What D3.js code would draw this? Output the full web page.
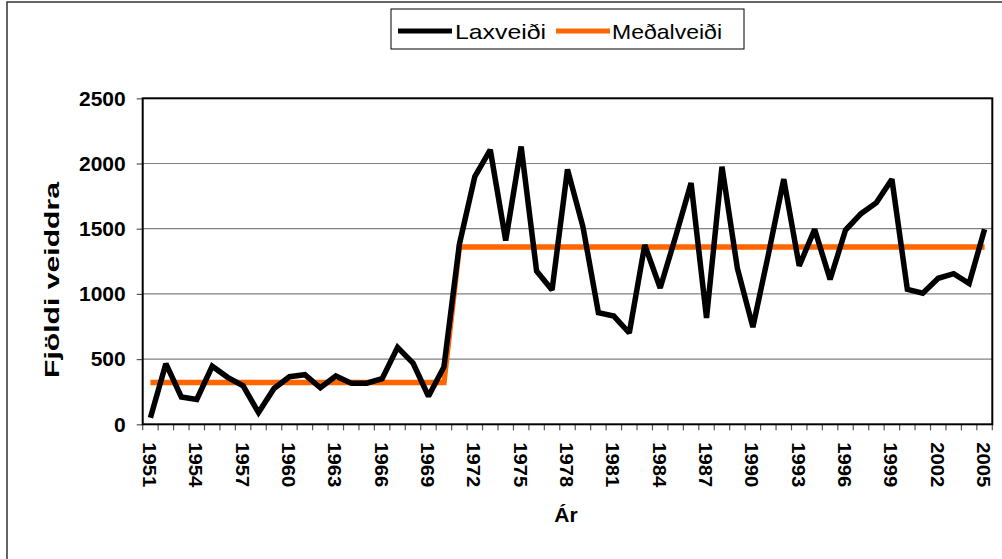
<!DOCTYPE html>
<html>
<head>
<meta charset="utf-8">
<script src="https://cdn.jsdelivr.net/npm/d3@7/dist/d3.min.js"></script>
<style>
  html, body { margin: 0; padding: 0; background: #fff; }
  svg { display: block; font-family: "Liberation Sans", Arial, sans-serif; }
</style>
</head>
<body>
<svg id="chart" width="1002" height="559"></svg>
<script>
const years = [1951,1952,1953,1954,1955,1956,1957,1958,1959,1960,
  1961,1962,1963,1964,1965,1966,1967,1968,1969,1970,
  1971,1972,1973,1974,1975,1976,1977,1978,1979,1980,
  1981,1982,1983,1984,1985,1986,1987,1988,1989,1990,
  1991,1992,1993,1994,1995,1996,1997,1998,1999,2000,
  2001,2002,2003,2004,2005];
const laxveidi = [50,465,210,190,445,360,295,90,275,365,
  380,280,370,315,315,350,590,470,215,440,
  1380,1900,2105,1410,2130,1175,1030,1955,1515,855,
  830,700,1375,1045,1440,1850,815,1975,1195,745,
  1300,1880,1215,1495,1110,1490,1615,1700,1880,1035,
  1005,1120,1155,1080,1495];
const medalveidi = [320,320,320,320,320,320,320,320,320,320,
  320,320,320,320,320,320,320,320,320,320,
  1360,1360,1360,1360,1360,1360,1360,1360,1360,1360,
  1360,1360,1360,1360,1360,1360,1360,1360,1360,1360,
  1360,1360,1360,1360,1360,1360,1360,1360,1360,1360,
  1360,1360,1360,1360,1360];
const yTicks = [0,500,1000,1500,2000,2500];
const xLabelYears = [1951,1954,1957,1960,1963,1966,1969,1972,1975,1978,1981,1984,1987,1990,1993,1996,1999,2002,2005];
const seriesNames = ["Laxveiði","Meðalveiði"];
const seriesColors = ["#000000","#FF6600"];
const yTitle = "Fjöldi veiddra";
const xTitle = "Ár";

const svg = d3.select("#chart");
const L = 142.7, R = 992.3, T = 98.3, B = 424.3;

// outer chart border
svg.append("rect").attr("x",7).attr("y",2).attr("width",1010).attr("height",600)
  .attr("fill","#fff").attr("stroke","#333").attr("stroke-width",1.5);

const x = d3.scaleBand().domain(years).range([L, R]).paddingInner(0).paddingOuter(0);
const y = d3.scaleLinear().domain([0,2500]).range([B, T]);
const cx = d => x(d) + x.bandwidth()/2;

// gridlines
svg.append("g").selectAll("line").data(yTicks.filter(v => v > 0 && v < 2500)).join("line")
  .attr("x1", L).attr("x2", R).attr("y1", d => y(d)).attr("y2", d => y(d))
  .attr("stroke","#808080").attr("stroke-width",1.2);

// y axis
const yAxis = svg.append("g").attr("transform",`translate(${L},0)`)
  .call(d3.axisLeft(y).tickValues(yTicks).tickSize(6).tickPadding(11).tickFormat(d3.format("d")));
yAxis.select(".domain").remove();
yAxis.selectAll(".tick line").attr("stroke","#555").attr("stroke-width",1.2);
yAxis.selectAll(".tick text").attr("font-size",21).attr("font-weight","bold")
  .attr("fill","#000").attr("font-family","'Liberation Sans', Arial, sans-serif");

// x axis boundary ticks
const bounds = years.map(v => x(v)).concat([R]);
svg.append("g").selectAll("line").data(bounds).join("line")
  .attr("x1", d => d).attr("x2", d => d).attr("y1", B).attr("y2", B + 6)
  .attr("stroke","#555").attr("stroke-width",1.2);

// x labels (rotated)
const xAxis = svg.append("g").attr("transform",`translate(0,${B})`)
  .call(d3.axisBottom(x).tickValues(xLabelYears).tickSize(0));
xAxis.select(".domain").remove();
xAxis.selectAll(".tick text")
  .attr("font-size",17.5).attr("font-weight","bold").attr("fill","#000")
  .attr("font-family","'Liberation Sans', Arial, sans-serif")
  .attr("text-anchor","start").attr("dy",null).attr("y",null)
  .attr("dominant-baseline","central")
  .attr("textLength",45).attr("lengthAdjust","spacingAndGlyphs")
  .attr("transform","translate(-1.5,18) rotate(90)");

// plot border
svg.append("rect").attr("x",L).attr("y",T).attr("width",R-L).attr("height",B-T)
  .attr("fill","none").attr("stroke","#000").attr("stroke-width",2);

// lines
const line = d3.line().x((d,i) => cx(years[i])).y(d => y(d));
svg.append("path").datum(medalveidi).attr("d", line)
  .attr("fill","none").attr("stroke",seriesColors[1]).attr("stroke-width",5.5)
  .attr("stroke-linejoin","miter").attr("stroke-miterlimit",2);
svg.append("path").datum(laxveidi).attr("d", line)
  .attr("fill","none").attr("stroke",seriesColors[0]).attr("stroke-width",5.5)
  .attr("stroke-linejoin","miter").attr("stroke-miterlimit",2);

// axis titles
svg.append("text").attr("transform","translate(52,280) rotate(-90)")
  .attr("text-anchor","middle").attr("dominant-baseline","central")
  .attr("font-size",20).attr("font-weight","bold")
  .attr("textLength",196).attr("lengthAdjust","spacingAndGlyphs")
  .text(yTitle);
svg.append("text").attr("x",566).attr("y",522).attr("text-anchor","middle")
  .attr("font-size",21).attr("font-weight","bold").text(xTitle);

// legend
const lg = svg.append("g");
lg.append("rect").attr("x",391).attr("y",9).attr("width",353).attr("height",40)
  .attr("fill","#fff").attr("stroke","#000").attr("stroke-width",1);
const legItems = [
  {name: seriesNames[0], color: seriesColors[0], x0: 398, x1: 452, tx: 455, tl: 91},
  {name: seriesNames[1], color: seriesColors[1], x0: 556, x1: 610, tx: 612, tl: 110}
];
legItems.forEach(it => {
  lg.append("line").attr("x1",it.x0).attr("x2",it.x1).attr("y1",31).attr("y2",31)
    .attr("stroke",it.color).attr("stroke-width",5);
  lg.append("text").attr("x",it.tx).attr("y",38.5).attr("font-size",21)
    .attr("textLength",it.tl).attr("lengthAdjust","spacingAndGlyphs")
    .text(it.name);
});
</script>
</body>
</html>
